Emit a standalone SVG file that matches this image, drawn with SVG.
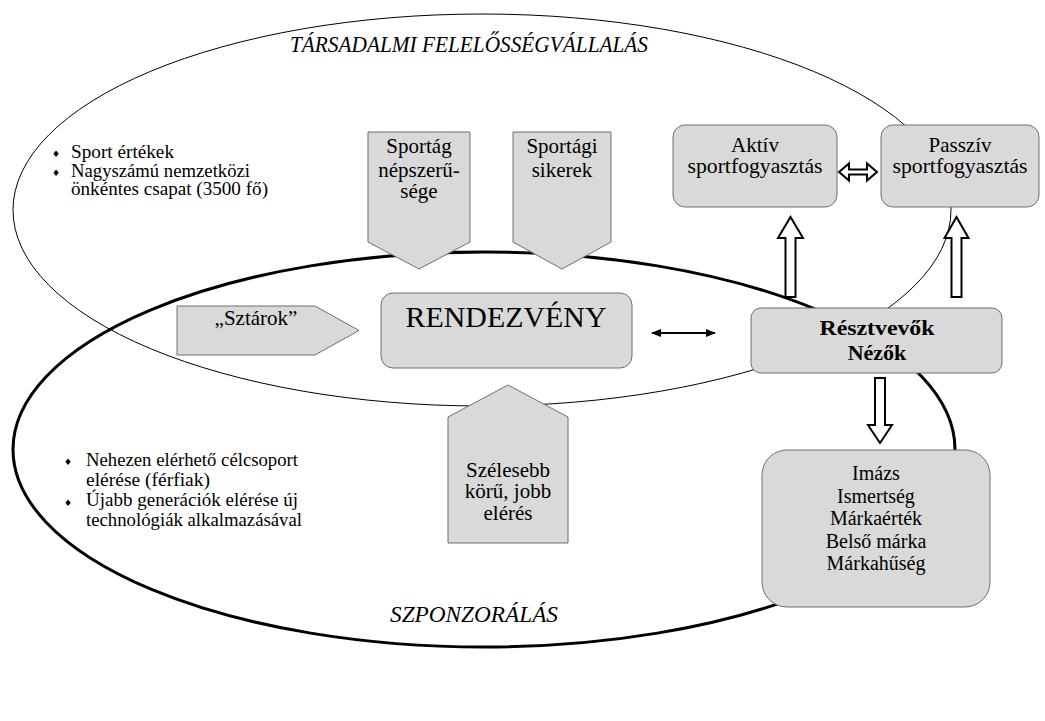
<svg xmlns="http://www.w3.org/2000/svg" width="1045" height="721" viewBox="0 0 1045 721" font-family="'Liberation Serif', 'Times New Roman', Tinos, 'Nimbus Roman', Times, serif">
<style>
text{font-family:"Liberation Serif","Times New Roman",Tinos,"Nimbus Roman",Times,serif;fill:#000}
.box{fill:#d9d9d9;stroke:#6f6f6f;stroke-width:1}
.hol{fill:#fff;stroke:#000;stroke-width:2;stroke-linejoin:miter}
.c{text-anchor:middle}
text.b{font-family:"DejaVu Sans",sans-serif;font-size:9px}
.t18{font-size:18.5px}
.t21{font-size:21px}
</style>
<defs>
<marker id="ah" viewBox="0 0 10 10" refX="9" refY="5" markerWidth="5" markerHeight="5" orient="auto-start-reverse" markerUnits="strokeWidth">
<path d="M0,1 L10,5 L0,9 Z" fill="#000"/>
</marker>
</defs>
<rect width="1045" height="721" fill="#fff"/>
<g id="ellipses" fill="none" stroke="#000">
<ellipse cx="482" cy="210" rx="469" ry="196" stroke-width="1"/>
<ellipse cx="484" cy="449.5" rx="471" ry="197.5" stroke-width="3"/>
</g>
<g id="labels">
<text x="290" y="52" font-size="23" font-style="italic" textLength="358" lengthAdjust="spacingAndGlyphs">TÁRSADALMI FELELŐSSÉGVÁLLALÁS</text>
<text x="390" y="622" font-size="23" font-style="italic" textLength="168" lengthAdjust="spacingAndGlyphs">SZPONZORÁLÁS</text>
</g>
<g id="bullets-top">
<text class="b" x="52" y="157">♦</text>
<text class="b" x="52" y="176">♦</text>
<text class="t18" x="71" y="158" textLength="103" lengthAdjust="spacingAndGlyphs">Sport értékek</text>
<text class="t18" x="71" y="177" textLength="179" lengthAdjust="spacingAndGlyphs">Nagyszámú nemzetközi</text>
<text class="t18" x="71" y="195" textLength="197" lengthAdjust="spacingAndGlyphs">önkéntes csapat (3500 fő)</text>
</g>
<g id="bullets-bottom">
<text class="b" x="64" y="465">♦</text>
<text class="b" x="64" y="506">♦</text>
<text class="t18" x="86" y="466" textLength="212" lengthAdjust="spacingAndGlyphs">Nehezen elérhető célcsoport</text>
<text class="t18" x="86" y="486" textLength="124" lengthAdjust="spacingAndGlyphs">elérése  (férfiak)</text>
<text class="t18" x="86" y="506" textLength="212" lengthAdjust="spacingAndGlyphs">Újabb generációk elérése új</text>
<text class="t18" x="86" y="526" textLength="216" lengthAdjust="spacingAndGlyphs">technológiák alkalmazásával</text>
</g>
<g id="sportag">
<path class="box" d="M368,132 H470 V242 L419,269 L368,242 Z"/>
<text class="t21 c" x="419" y="153">Sportág</text>
<text class="t21 c" x="419" y="177">népszerű-</text>
<text class="t21 c" x="419" y="198">sége</text>
</g>
<g id="sportagi">
<path class="box" d="M513,132 H611 V242 L562,269 L513,242 Z"/>
<text class="t21 c" x="562" y="153">Sportági</text>
<text class="t21 c" x="562" y="177">sikerek</text>
</g>
<g id="sztarok">
<path class="box" d="M177,306 H315 L359,330.5 L315,355 H177 Z"/>
<text class="t21 c" x="256" y="325">„Sztárok”</text>
</g>
<g id="rendezveny">
<rect class="box" x="381" y="293" width="251" height="75" rx="12"/>
<text class="c" x="506" y="327" font-size="29" textLength="201" lengthAdjust="spacingAndGlyphs">RENDEZVÉNY</text>
</g>
<g id="szelesebb">
<path class="box" d="M448,417 L508,385 L568,417 V543 H448 Z"/>
<text class="t21 c" x="508" y="477">Szélesebb</text>
<text class="t21 c" x="508" y="498">körű, jobb</text>
<text class="t21 c" x="508" y="520">elérés</text>
</g>
<g id="aktiv">
<rect class="box" x="673" y="125" width="164" height="82" rx="12"/>
<text class="t21 c" x="755" y="152">Aktív</text>
<text class="t21 c" x="755" y="173" textLength="135" lengthAdjust="spacingAndGlyphs">sportfogyasztás</text>
</g>
<g id="passziv">
<rect class="box" x="881" y="125" width="158" height="82" rx="12"/>
<text class="t21 c" x="960" y="152">Passzív</text>
<text class="t21 c" x="960" y="173" textLength="135" lengthAdjust="spacingAndGlyphs">sportfogyasztás</text>
</g>
<g id="resztvevok">
<rect class="box" x="751" y="308" width="251" height="65" rx="10"/>
<text class="c" x="877" y="335" font-size="22" font-weight="bold" textLength="115" lengthAdjust="spacingAndGlyphs">Résztvevők</text>
<text class="c" x="877" y="360" font-size="22" font-weight="bold">Nézők</text>
</g>
<g id="imazs">
<rect class="box" x="762" y="450" width="228" height="157" rx="25"/>
<text class="c" x="876" y="480" font-size="20">Imázs</text>
<text class="c" x="876" y="503" font-size="20">Ismertség</text>
<text class="c" x="876" y="525" font-size="20">Márkaérték</text>
<text class="c" x="876" y="548" font-size="20">Belső márka</text>
<text class="c" x="876" y="570" font-size="20">Márkahűség</text>
</g>
<g id="connectors">
<line x1="652" y1="333" x2="715" y2="333" stroke="#000" stroke-width="2" marker-start="url(#ah)" marker-end="url(#ah)"/>
<path class="hol" d="M839,172 L849,163.5 L849,169.5 L867,169.5 L867,163.5 L877,172 L867,180.5 L867,174.5 L849,174.5 L849,180.5 Z"/>
<path class="hol" d="M790.5,217 L803,238 L795.5,238 L795.5,297 L785.5,297 L785.5,238 L778,238 Z"/>
<path class="hol" d="M956.5,217 L968.5,238 L961.5,238 L961.5,297 L951.5,297 L951.5,238 L944.5,238 Z"/>
<path class="hol" d="M875,378 L885,378 L885,425 L892,425 L880,443 L868,425 L875,425 Z"/>
</g>
</svg>
